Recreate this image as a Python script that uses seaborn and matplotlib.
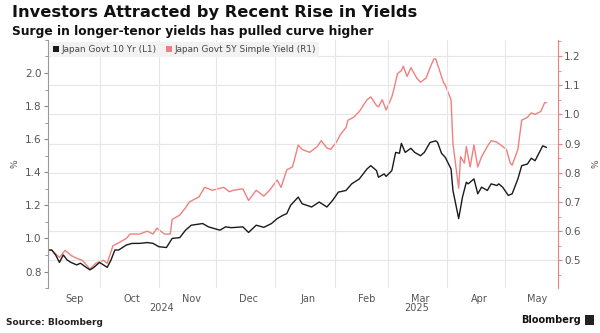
import matplotlib
matplotlib.use("Agg")
import matplotlib.pyplot as plt
import matplotlib.dates as mdates
import matplotlib.ticker as mticker
from matplotlib.patches import Patch
import seaborn as sns
import pandas as pd

sns.set_style("white")
plt.rcParams['font.family'] = ['DejaVu Sans']

# ---- data ----
jgb10_dates = [
    "2024-09-04", "2024-09-06", "2024-09-08", "2024-09-10", "2024-09-12", "2024-09-14",
    "2024-09-16", "2024-09-19", "2024-09-21", "2024-09-24", "2024-09-26", "2024-09-28",
    "2024-10-01", "2024-10-03", "2024-10-05", "2024-10-07", "2024-10-09", "2024-10-11",
    "2024-10-15", "2024-10-18", "2024-10-22", "2024-10-26", "2024-10-29", "2024-11-01",
    "2024-11-05", "2024-11-08", "2024-11-12", "2024-11-15", "2024-11-18", "2024-11-24",
    "2024-11-27", "2024-12-03", "2024-12-06", "2024-12-09", "2024-12-15", "2024-12-18",
    "2024-12-22", "2024-12-26", "2024-12-30", "2025-01-02", "2025-01-05", "2025-01-07",
    "2025-01-09", "2025-01-13", "2025-01-15", "2025-01-20", "2025-01-24", "2025-01-28",
    "2025-01-31", "2025-02-03", "2025-02-07", "2025-02-10", "2025-02-14", "2025-02-18",
    "2025-02-20", "2025-02-23", "2025-02-24", "2025-02-27", "2025-02-28", "2025-03-03",
    "2025-03-05", "2025-03-07", "2025-03-08", "2025-03-10", "2025-03-13", "2025-03-15",
    "2025-03-18", "2025-03-20", "2025-03-23", "2025-03-26", "2025-03-27", "2025-03-29",
    "2025-03-31", "2025-04-03", "2025-04-04", "2025-04-07", "2025-04-09", "2025-04-11",
    "2025-04-12", "2025-04-15", "2025-04-17", "2025-04-19", "2025-04-22", "2025-04-24",
    "2025-04-27", "2025-04-28", "2025-04-30", "2025-05-03", "2025-05-05", "2025-05-08",
    "2025-05-10", "2025-05-13", "2025-05-15", "2025-05-17", "2025-05-19", "2025-05-21",
    "2025-05-23",
]
jgb10_values = [
    0.93, 0.93, 0.90, 0.855, 0.90, 0.87,
    0.855, 0.84, 0.85, 0.825, 0.81, 0.825,
    0.855, 0.84, 0.825, 0.87, 0.93, 0.93,
    0.96, 0.97, 0.97, 0.975, 0.97, 0.95,
    0.945, 1.00, 1.005, 1.05, 1.08, 1.09,
    1.07, 1.05, 1.07, 1.065, 1.07, 1.036,
    1.08, 1.067, 1.09, 1.12, 1.14, 1.15,
    1.20, 1.25, 1.21, 1.19, 1.22, 1.19,
    1.23, 1.28, 1.29, 1.33, 1.36, 1.42,
    1.44, 1.41, 1.37, 1.39, 1.375, 1.41,
    1.52, 1.515, 1.575, 1.52, 1.545, 1.52,
    1.50, 1.52, 1.58, 1.59, 1.58, 1.515,
    1.49, 1.42, 1.29, 1.12, 1.25, 1.34,
    1.33, 1.36, 1.27, 1.31, 1.29, 1.33,
    1.32, 1.33, 1.31, 1.26, 1.27, 1.36,
    1.44, 1.45, 1.485, 1.47, 1.515, 1.56,
    1.55,
]

jgb5s_dates = [
    "2024-09-04", "2024-09-06", "2024-09-10", "2024-09-13", "2024-09-16", "2024-09-19",
    "2024-09-22", "2024-09-26", "2024-09-29", "2024-10-03", "2024-10-05", "2024-10-08",
    "2024-10-11", "2024-10-15", "2024-10-17", "2024-10-19", "2024-10-22", "2024-10-26",
    "2024-10-29", "2024-10-31", "2024-11-04", "2024-11-07", "2024-11-08", "2024-11-12",
    "2024-11-15", "2024-11-17", "2024-11-22", "2024-11-25", "2024-11-29", "2024-12-05",
    "2024-12-08", "2024-12-10", "2024-12-15", "2024-12-18", "2024-12-22", "2024-12-26",
    "2024-12-29", "2025-01-02", "2025-01-04", "2025-01-07", "2025-01-10", "2025-01-13",
    "2025-01-15", "2025-01-19", "2025-01-23", "2025-01-25", "2025-01-28", "2025-01-30",
    "2025-02-02", "2025-02-04", "2025-02-07", "2025-02-08", "2025-02-11", "2025-02-14",
    "2025-02-18", "2025-02-20", "2025-02-23", "2025-02-24", "2025-02-26", "2025-02-28",
    "2025-03-03", "2025-03-04", "2025-03-06", "2025-03-08", "2025-03-09", "2025-03-11",
    "2025-03-13", "2025-03-16", "2025-03-18", "2025-03-21", "2025-03-23", "2025-03-25",
    "2025-03-26", "2025-03-28", "2025-03-30", "2025-03-31", "2025-04-03", "2025-04-04",
    "2025-04-07", "2025-04-08", "2025-04-10", "2025-04-11", "2025-04-13", "2025-04-15",
    "2025-04-17", "2025-04-19", "2025-04-22", "2025-04-24", "2025-04-27", "2025-04-29",
    "2025-05-02", "2025-05-04", "2025-05-05", "2025-05-08", "2025-05-10", "2025-05-13",
    "2025-05-15", "2025-05-17", "2025-05-20", "2025-05-22", "2025-05-23",
]
jgb5s_values = [
    0.534, 0.534, 0.51, 0.534, 0.517, 0.507,
    0.50, 0.47, 0.49, 0.50, 0.49, 0.55,
    0.56, 0.575, 0.59, 0.59, 0.59, 0.60,
    0.59, 0.61, 0.59, 0.59, 0.64, 0.655,
    0.68, 0.70, 0.717, 0.75, 0.74, 0.75,
    0.735, 0.74, 0.745, 0.705, 0.74, 0.72,
    0.74, 0.775, 0.75, 0.81, 0.82, 0.895,
    0.88, 0.87, 0.89, 0.91, 0.885, 0.88,
    0.905, 0.93, 0.955, 0.98, 0.99, 1.01,
    1.05, 1.06, 1.03, 1.026, 1.05, 1.015,
    1.06, 1.084, 1.14, 1.15, 1.165, 1.13,
    1.16, 1.125, 1.11, 1.125, 1.16, 1.19,
    1.19, 1.15, 1.11, 1.10, 1.05, 0.90,
    0.747, 0.855, 0.833, 0.89, 0.82, 0.895,
    0.82, 0.855, 0.89, 0.91, 0.905, 0.895,
    0.88, 0.833, 0.826, 0.88, 0.98, 0.99,
    1.005, 1.0, 1.01, 1.04, 1.04,
]

series_names = ["Japan Govt 10 Yr (L1)", "Japan Govt 5Y Simple Yield (R1)"]
month_labels = ["Sep", "Oct", "Nov", "Dec", "Jan", "Feb", "Mar", "Apr", "May"]
year_labels = ["2024", "2025"]
left_ticks = [0.8, 1.0, 1.2, 1.4, 1.6, 1.8, 2.0]
right_ticks = [0.5, 0.6, 0.7, 0.8, 0.9, 1.0, 1.1, 1.2]

df10 = pd.DataFrame({"date": pd.to_datetime(jgb10_dates), "value": jgb10_values})
df5 = pd.DataFrame({"date": pd.to_datetime(jgb5s_dates), "value": jgb5s_values})

BLACK = "#1a1a1a"
RED = "#f27f7f"
TICKC = "#555555"

fig = plt.figure(figsize=(6.0, 3.33), dpi=100)
ax = fig.add_axes([0.08, 0.135, 0.85, 0.745])
ax2 = ax.twinx()

sns.lineplot(data=df5, x="date", y="value", ax=ax2, color=RED, linewidth=1.0)
sns.lineplot(data=df10, x="date", y="value", ax=ax, color=BLACK, linewidth=1.0)
ax.set_zorder(ax2.get_zorder() + 1)
ax.patch.set_visible(False)

xmin, xmax = pd.Timestamp("2024-09-04"), pd.Timestamp("2025-05-29")
ax.set_xlim(xmin, xmax)
ax.set_ylim(0.7, 2.2)
ax2.set_ylim(0.405, 1.255)

# y ticks
ax.yaxis.set_major_locator(mticker.FixedLocator(left_ticks))
ax.yaxis.set_minor_locator(mticker.MultipleLocator(0.1))
ax.yaxis.set_major_formatter(mticker.FormatStrFormatter("%.1f"))
ax2.yaxis.set_major_locator(mticker.FixedLocator(right_ticks))
ax2.yaxis.set_minor_locator(mticker.MultipleLocator(0.05))
ax2.yaxis.set_major_formatter(mticker.FormatStrFormatter("%.1f"))

for a in (ax, ax2):
    a.tick_params(axis="y", which="major", length=3, width=0.8, labelsize=7.5,
                  labelcolor=TICKC, pad=1.5)
    a.tick_params(axis="y", which="minor", length=2, width=0.6)
ax.tick_params(axis="y", which="both", color="#888888")
ax2.tick_params(axis="y", which="both", color=RED)

# x ticks: month starts for grid, mid-month for labels
ax.xaxis.set_major_locator(mdates.MonthLocator(bymonthday=1))
ax.xaxis.set_major_formatter(mticker.NullFormatter())
ax.xaxis.set_minor_locator(mdates.MonthLocator(bymonthday=18))
ax.xaxis.set_minor_formatter(mticker.FixedFormatter(month_labels))
ax.tick_params(axis="x", which="major", length=0)
ax.tick_params(axis="x", which="minor", length=0, labelsize=7, labelcolor=TICKC, pad=4)
ax2.tick_params(axis="x", length=0)

# grids
ax.grid(False)
ax2.grid(False)
ax.xaxis.grid(True, which="major", color="#e6e6e6", linewidth=0.8)
ax2.yaxis.grid(True, which="major", color="#e6e6e6", linewidth=0.8)

# spines
for a in (ax, ax2):
    for s in ("top", "bottom"):
        a.spines[s].set_visible(False)
ax.spines["right"].set_visible(False)
ax2.spines["left"].set_visible(False)
ax.spines["left"].set_color("#999999")
ax.spines["left"].set_linewidth(0.8)
ax2.spines["right"].set_color(RED)
ax2.spines["right"].set_linewidth(0.8)

ax.set_xlabel("")
ax.set_ylabel("%", fontsize=6.5, color=TICKC, labelpad=4)
ax2.set_ylabel("%", fontsize=6.5, color=TICKC, labelpad=8, rotation=90)

# year labels
trans = ax.get_xaxis_transform()
jan1 = mdates.date2num(pd.Timestamp("2025-01-01"))
x2024 = (mdates.date2num(xmin) + jan1) / 2
x2025 = (jan1 + mdates.date2num(xmax)) / 2
ax.text(x2024, -0.062, year_labels[0], transform=trans, ha="center", va="top",
        fontsize=7, color=TICKC)
ax.text(x2025, -0.062, year_labels[1], transform=trans, ha="center", va="top",
        fontsize=7, color=TICKC)

# legend
handles = [Patch(facecolor=BLACK, edgecolor="none"), Patch(facecolor=RED, edgecolor="none")]
leg = ax.legend(handles, series_names, loc="upper left", bbox_to_anchor=(0.0, 1.0),
                ncol=2, fontsize=6.4, frameon=True, handlelength=0.7, handleheight=0.7,
                handletextpad=0.3, columnspacing=1.0, borderpad=0.35, borderaxespad=0.2,
                labelcolor="#444444")
leg.get_frame().set_facecolor("#f2f2f2")
leg.get_frame().set_edgecolor("none")
leg.get_frame().set_alpha(1.0)

# titles and footer
fig.text(0.02, 0.962, "Investors Attracted by Recent Rise in Yields", fontsize=11.7,
         fontweight="bold", ha="left", va="center", color="#111111")
fig.text(0.02, 0.905, "Surge in longer-tenor yields has pulled curve higher", fontsize=8.8,
         fontweight="bold", ha="left", va="center", color="#111111")
fig.text(0.01, 0.033, "Source: Bloomberg", fontsize=6.5, fontweight="bold",
         ha="left", va="center", color="#222222")
fig.text(0.968, 0.038, "Bloomberg", fontsize=7, fontweight="bold",
         ha="right", va="center", color="#111111")
fig.patches.append(matplotlib.patches.Rectangle((0.975, 0.024), 0.015, 0.03,
                   transform=fig.transFigure, facecolor="#222222", edgecolor="none"))

fig.savefig("out.png", dpi=100, facecolor="white")
